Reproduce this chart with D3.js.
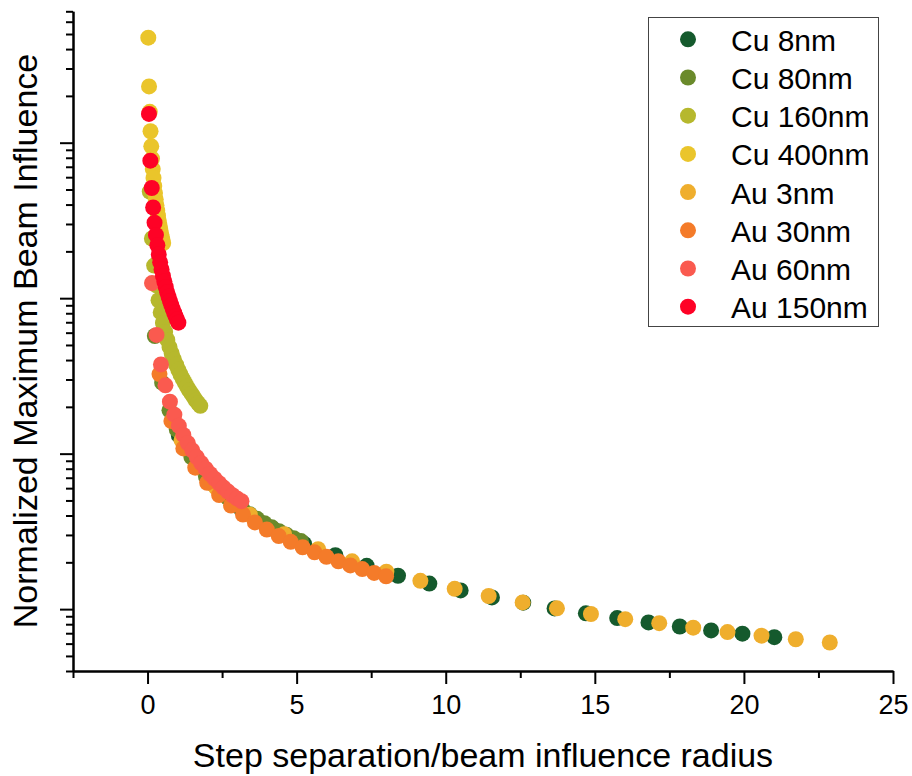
<!DOCTYPE html>
<html>
<head>
<meta charset="utf-8">
<script src="https://cdn.jsdelivr.net/npm/d3@7"></script>
<style>
  body { margin: 0; background: #fff; }
  svg text { font-family: "Liberation Sans", Arial, sans-serif; fill: #000; }
  .axis path, .axis line { stroke: #000; stroke-width: 2; }
</style>
</head>
<body>
<div id="chart"></div>
<script>
// series, in drawing order (later ones sit on top)
var seriesNames  = ["Cu 8nm", "Cu 80nm", "Cu 160nm", "Cu 400nm", "Au 3nm", "Au 30nm", "Au 60nm", "Au 150nm"];
var seriesColors = ["#155a2d", "#6a8a2b", "#b6b82d", "#eac52b", "#efae2d", "#f47b29", "#fa5a4f", "#fe0226"];

// step separation / beam influence radius
var cu8X   = [1.05, 2.10, 3.15, 4.20, 5.25, 6.30, 7.35, 8.40, 9.45, 10.50, 11.55, 12.60, 13.65, 14.70, 15.75, 16.80, 17.85, 18.90, 19.95, 21.02];
var cu8Y   = [13.1, 6.57, 4.38, 3.29, 2.63, 2.22, 1.90, 1.64, 1.46, 1.32, 1.19, 1.10, 1.01, 0.94, 0.876, 0.821, 0.773, 0.730, 0.695, 0.660];
var cu80X  = [0.245, 0.49, 0.735, 0.98, 1.225, 1.47, 1.715, 1.96, 2.205, 2.45, 2.695, 2.94, 3.185, 3.43, 3.675, 3.92, 4.165, 4.41, 4.655, 4.90, 5.145];
var cu80Y  = [57.1, 28.6, 19.0, 14.3, 11.4, 9.52, 8.16, 7.14, 6.35, 5.71, 5.19, 4.76, 4.40, 4.08, 3.81, 3.57, 3.36, 3.17, 3.01, 2.86, 2.74];
var cu160X = [0.074, 0.147, 0.221, 0.295, 0.369, 0.442, 0.516, 0.590, 0.663, 0.737, 0.811, 0.884, 0.958, 1.032, 1.106, 1.179, 1.253, 1.327, 1.400, 1.474, 1.548, 1.621, 1.695, 1.769];
var cu160Y = [485, 242, 162, 121, 97, 81, 69.3, 60.6, 53.9, 48.5, 44.1, 40.4, 37.3, 34.6, 32.3, 30.3, 28.5, 26.9, 25.5, 24.3, 23.1, 22.0, 21.1, 20.3];
var cu400X = [0.025, 0.05, 0.075, 0.10, 0.125, 0.15, 0.175, 0.20, 0.225, 0.25, 0.275, 0.30, 0.325, 0.35, 0.375, 0.40, 0.425, 0.45, 0.475, 0.50, 0.525];
var cu400Y = [4740, 2300, 1580, 1185, 948, 790, 677, 593, 527, 474, 431, 395, 365, 339, 316, 296, 279, 263, 249, 237, 226];
var au3X   = [1.14, 2.29, 3.43, 4.58, 5.72, 6.86, 8.01, 9.15, 10.30, 11.44, 12.58, 13.73, 14.87, 16.02, 17.16, 18.30, 19.45, 20.59, 21.74, 22.88];
var au3Y   = [12.2, 6.07, 4.05, 3.03, 2.43, 2.03, 1.74, 1.52, 1.35, 1.215, 1.105, 1.012, 0.930, 0.862, 0.812, 0.760, 0.712, 0.675, 0.640, 0.610];
var au30X  = [0.4, 0.8, 1.2, 1.6, 2.0, 2.4, 2.8, 3.2, 3.6, 4.0, 4.4, 4.8, 5.2, 5.6, 6.0, 6.4, 6.8, 7.2, 7.6, 8.0];
var au30Y  = [32.5, 16.2, 10.8, 8.13, 6.50, 5.42, 4.64, 4.06, 3.61, 3.25, 2.95, 2.71, 2.50, 2.32, 2.17, 2.03, 1.91, 1.81, 1.71, 1.625];
var au60X  = [0.15, 0.30, 0.45, 0.60, 0.75, 0.90, 1.05, 1.20, 1.35, 1.50, 1.65, 1.80, 1.95, 2.10, 2.25, 2.40, 2.55, 2.70, 2.85, 3.00, 3.15];
var au60Y  = [125, 58, 37.5, 27.5, 21.6, 17.8, 15.1, 13.2, 11.7, 10.5, 9.5, 8.7, 8.0, 7.4, 6.9, 6.45, 6.05, 5.7, 5.4, 5.15, 4.95];
var au150X = [0.047, 0.094, 0.141, 0.188, 0.235, 0.282, 0.329, 0.376, 0.423, 0.470, 0.517, 0.564, 0.611, 0.658, 0.705, 0.752, 0.799, 0.846, 0.893, 0.940, 0.987, 1.034];
var au150Y = [1532, 766, 511, 383, 306, 255, 219, 191, 170, 153, 139, 128, 118, 109, 102, 95.8, 90.1, 85.1, 80.6, 76.6, 73.0, 69.6];

var seriesX = [cu8X, cu80X, cu160X, cu400X, au3X, au30X, au60X, au150X];
var seriesY = [cu8Y, cu80Y, cu160Y, cu400Y, au3Y, au30Y, au60Y, au150Y];

var xTicks = [0, 5, 10, 15, 20, 25];
var xMinorTicks = [-2.5, 2.5, 7.5, 12.5, 17.5, 22.5];
var yTicks = [1, 10, 100, 1000];
var yMinorTicks = [0.4, 0.5, 0.6, 0.7, 0.8, 0.9, 2, 3, 4, 5, 6, 7, 8, 9,
                   20, 30, 40, 50, 60, 70, 80, 90, 200, 300, 400, 500, 600, 700, 800, 900,
                   2000, 3000, 4000, 5000, 6000, 7000];

var width = 912, height = 776;

var svg = d3.select("#chart").append("svg")
  .attr("width", width)
  .attr("height", height);

var x = d3.scaleLinear().domain([-2.5, 25]).range([73, 893]);
var y = d3.scaleLog().domain([0.4, 7000]).range([671, 11.3]);

// x axis
svg.append("g").attr("class", "axis")
  .attr("transform", "translate(0,671)")
  .call(d3.axisBottom(x).tickValues(xMinorTicks).tickSize(7).tickSizeOuter(0).tickFormat(""));
var xAxis = svg.append("g").attr("class", "axis")
  .attr("transform", "translate(0,671)")
  .call(d3.axisBottom(x).tickValues(xTicks).tickSize(13).tickSizeOuter(0).tickPadding(11));
xAxis.selectAll("text").style("font-size", "27px");

// y axis (log, no labels)
svg.append("g").attr("class", "axis")
  .attr("transform", "translate(73,0)")
  .call(d3.axisLeft(y).tickValues(yMinorTicks).tickSize(7).tickSizeOuter(0).tickFormat(""));
svg.append("g").attr("class", "axis")
  .attr("transform", "translate(73,0)")
  .call(d3.axisLeft(y).tickValues(yTicks).tickSize(13).tickSizeOuter(0).tickFormat(""));

// axis titles
svg.append("text")
  .attr("x", 483)
  .attr("y", 767)
  .attr("text-anchor", "middle")
  .style("font-size", "34px")
  .text("Step separation/beam influence radius");

svg.append("text")
  .attr("transform", "translate(37,341) rotate(-90)")
  .attr("text-anchor", "middle")
  .style("font-size", "34px")
  .text("Normalized Maximum Beam Influence");

// points
seriesNames.forEach(function(name, i) {
  var pts = seriesX[i].map(function(d, j) { return [d, seriesY[i][j]]; });
  svg.append("g")
    .selectAll("circle")
    .data(pts)
    .enter().append("circle")
    .attr("cx", function(d) { return x(d[0]); })
    .attr("cy", function(d) { return y(d[1]); })
    .attr("r", 8)
    .style("fill", seriesColors[i]);
});

// legend
var legend = svg.append("g");
legend.append("rect")
  .attr("x", 648.5).attr("y", 17.5)
  .attr("width", 230).attr("height", 309)
  .style("fill", "#fff")
  .style("stroke", "#444")
  .style("stroke-width", 1);

var items = legend.selectAll("g.item")
  .data(seriesNames)
  .enter().append("g")
  .attr("class", "item")
  .attr("transform", function(d, i) { return "translate(0," + (39.3 + i * 38.2) + ")"; });
items.append("circle")
  .attr("cx", 688)
  .attr("cy", 0)
  .attr("r", 8)
  .style("fill", function(d, i) { return seriesColors[i]; });
items.append("text")
  .attr("x", 731)
  .attr("y", 1)
  .attr("dominant-baseline", "central")
  .style("font-size", "30px")
  .text(function(d) { return d; });
</script>
</body>
</html>
